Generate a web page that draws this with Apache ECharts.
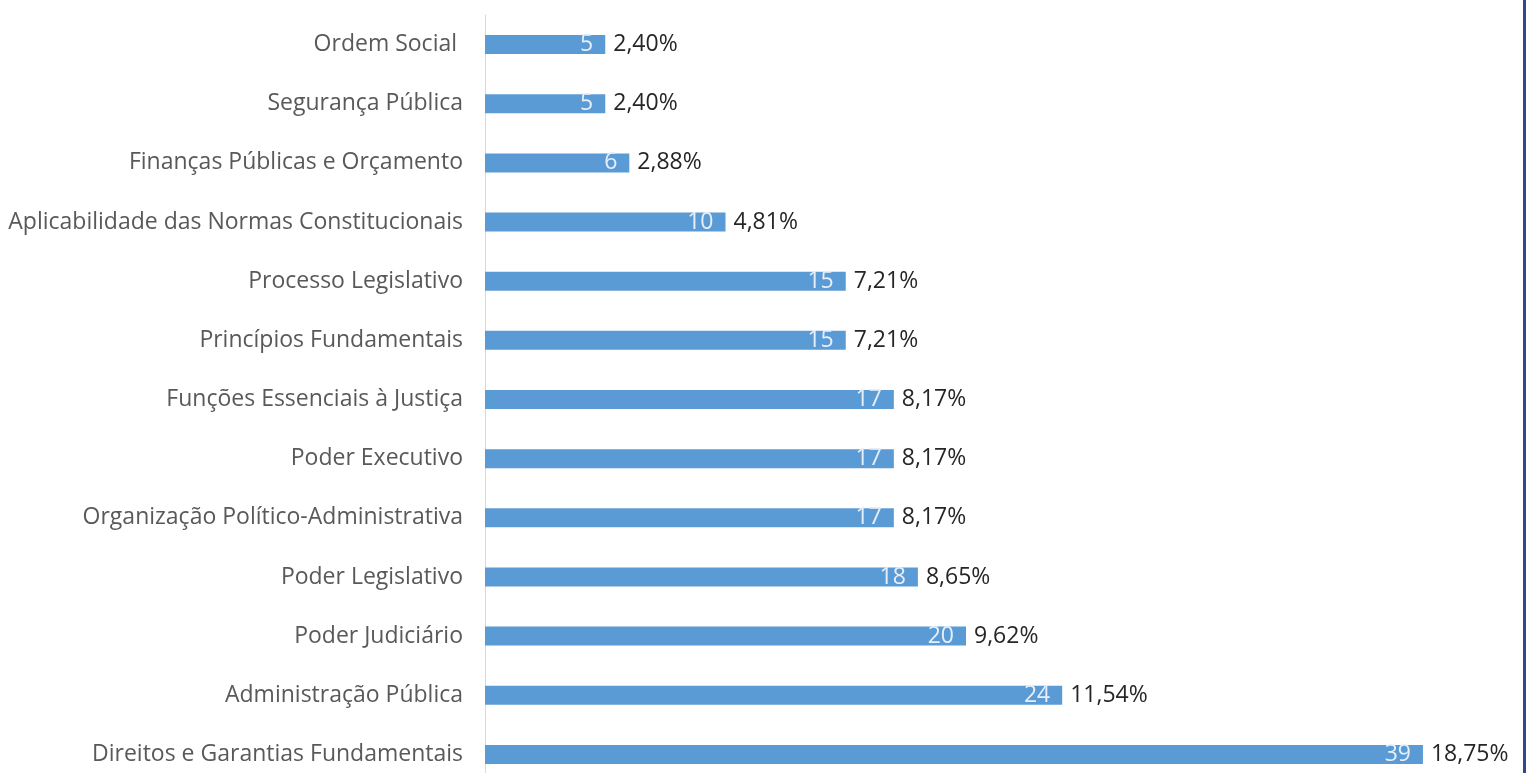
<!DOCTYPE html>
<html>
<head>
<meta charset="utf-8">
<script src="https://cdn.jsdelivr.net/npm/echarts@6/dist/echarts.min.js"></script>
<style>
  html, body { margin: 0; padding: 0; background: #fff; }
  #chart { width: 1526px; height: 773px; }
</style>
</head>
<body>
<div id="chart"></div>
<script>
// categories from top to bottom
const categories = [
    "Ordem Social ",
    "Segurança Pública",
    "Finanças Públicas e Orçamento",
    "Aplicabilidade das Normas Constitucionais",
    "Processo Legislativo",
    "Princípios Fundamentais",
    "Funções Essenciais à Justiça",
    "Poder Executivo",
    "Organização Político-Administrativa",
    "Poder Legislativo",
    "Poder Judiciário",
    "Administração Pública",
    "Direitos e Garantias Fundamentais"
];
const counts = [5, 5, 6, 10, 15, 15, 17, 17, 17, 18, 20, 24, 39];
const percents = ["2,40%", "2,40%", "2,88%", "4,81%", "7,21%", "7,21%", "8,17%", "8,17%", "8,17%", "8,65%", "9,62%", "11,54%", "18,75%"];

const chart = echarts.init(document.getElementById('chart'), null, { renderer: 'canvas' });

const font = "'Open Sans', sans-serif";

chart.setOption({
    animation: false,
    // grid runs past the bottom edge, like the cropped original
    grid: { left: 485, top: 15, width: 962, height: 769, outerBoundsMode: 'none' },
    xAxis: {
        type: 'value', min: 0, max: 40,
        show: false
    },
    yAxis: {
        type: 'category',
        data: categories,
        inverse: true,
        axisLine: { show: true, lineStyle: { color: '#d9d9d9', width: 1 } },
        axisTick: { show: false },
        axisLabel: { color: '#595959', fontSize: 23, fontFamily: font, margin: 22 }
    },
    graphic: [
        { type: 'rect', right: 0, top: 0, shape: { width: 3, height: 773 }, style: { fill: '#2e4a8c' } }
    ],
    series: [
        {
            type: 'bar',
            data: counts,
            barWidth: 19,
            itemStyle: { color: '#5b9bd5' },
            label: {
                show: true, position: 'insideRight', distance: 12,
                color: '#e6eff9', fontSize: 23, fontFamily: font
            },
            z: 2
        },
        {
            // transparent twin bar, only carries the percentage label
            type: 'bar',
            data: counts,
            barWidth: 19,
            barGap: '-100%',
            itemStyle: { color: 'rgba(0,0,0,0)' },
            label: {
                show: true, position: 'right', distance: 8,
                color: '#262626', fontSize: 23, fontFamily: font,
                formatter: function (p) { return percents[p.dataIndex]; }
            },
            z: 3
        }
    ]
});
</script>
</body>
</html>
